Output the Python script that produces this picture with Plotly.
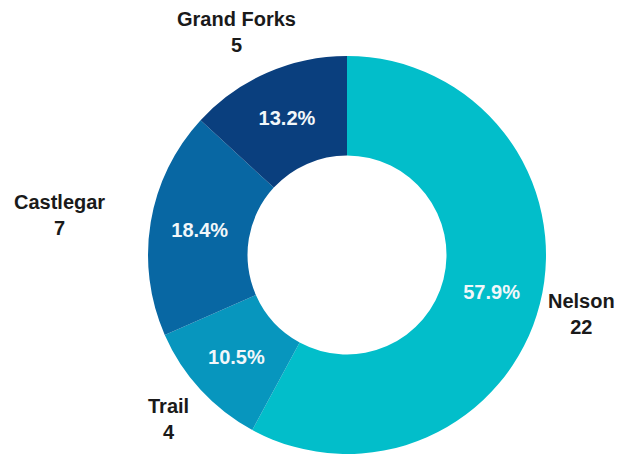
import math
import plotly.graph_objects as go

# Office counts by city
cities = ["Nelson", "Trail", "Castlegar", "Grand Forks"]
counts = [22, 4, 7, 5]
colors = ["#02BECA", "#0796BE", "#0867A3", "#0A3F7E"]

W, H = 632, 456
CX, CY, R = 347, 255, 199          # pie centre and outer radius in pixels
HOLE = 0.50

fig = go.Figure(go.Pie(
    labels=cities,
    values=counts,
    sort=False,
    direction="clockwise",
    rotation=0,
    hole=HOLE,
    marker=dict(colors=colors, line=dict(width=0)),
    texttemplate="<b>%{percent:.1%}</b>",
    textposition="inside",
    insidetextorientation="horizontal",
    insidetextfont=dict(family="Liberation Sans", size=20, color="#F2F7FA"),
    showlegend=False,
    hoverinfo="label+value+percent",
    domain=dict(x=[(CX - R) / W, (CX + R) / W],
                y=[(H - CY - R) / H, (H - CY + R) / H]),
))

# Outside name/value labels placed along each slice's mid angle
label_style = {
    "Nelson": dict(r=242, xanchor="center", xshift=0),
    "Trail": dict(r=242, xanchor="center", xshift=0),
    "Castlegar": dict(r=245, xanchor="right", xshift=2),
    "Grand Forks": dict(r=244, xanchor="center", xshift=-12),
}
total = sum(counts)
start = 0.0
for city, n in zip(cities, counts):
    frac = n / total
    mid = (start + frac / 2) * 2 * math.pi
    start += frac
    st = label_style[city]
    px = CX + st["r"] * math.sin(mid)
    py = CY - st["r"] * math.cos(mid)
    fig.add_annotation(
        x=px / W, y=1 - py / H, xref="paper", yref="paper",
        text=f"<b>{city}</b><br><b>{n}</b>",
        showarrow=False, xanchor=st["xanchor"], yanchor="middle",
        xshift=st["xshift"],
        align="center",
        font=dict(family="Liberation Sans", size=20, color="#1A1A1A"),
    )

fig.update_layout(
    width=W, height=H,
    margin=dict(l=0, r=0, t=0, b=0),
    paper_bgcolor="white",
    plot_bgcolor="white",
)

fig.write_html("out.html")
